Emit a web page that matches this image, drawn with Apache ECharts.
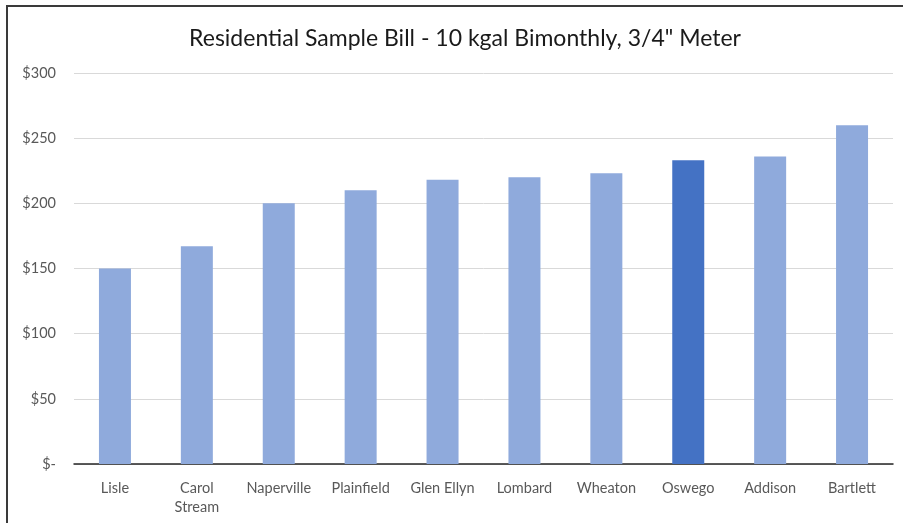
<!DOCTYPE html>
<html lang="en">
<head>
	<meta charset="UTF-8">
	<title>Residential Sample Bill</title>
	<style>
		html, body { margin: 0; padding: 0; background: #fff; }
		#frame { position: absolute; left: 6px; top: 5px; width: 897px; height: 518px;
			border-left: 2px solid #3a3a3a; border-top: 2px solid #3a3a3a; }
		#main { position: absolute; left: 0; top: 0; width: 903px; height: 523px; }
	</style>
</head>
<body>
	<div id="frame"></div>
	<div id="main"></div>
</body>
</html>

<script src='https://cdn.jsdelivr.net/npm/echarts@6/dist/echarts.min.js'></script>
<script>
		var towns = ['Lisle', 'Carol Stream', 'Naperville', 'Plainfield', 'Glen Ellyn', 'Lombard', 'Wheaton', 'Oswego', 'Addison', 'Bartlett'];
		var bills = [150, 167, 200, 210, 218, 220, 223, 233, 236, 260];
		var highlight = 'Oswego';
		var yTicks = [0, 50, 100, 150, 200, 250, 300];

		var myChart = echarts.init(document.getElementById('main'));

		var option = {
			animation: false,
			title: {
				text: 'Residential Sample Bill - 10 kgal Bimonthly, 3/4" Meter',
				left: 460,
				textAlign: 'center',
				top: 22,
				textStyle: { fontFamily: 'Lato', fontSize: 23, fontWeight: 'normal', color: '#1a1a1a' }
			},
			grid: { left: 74, right: 10, top: 73, bottom: 59 },
			xAxis: {
				type: 'category',
				data: towns,
				axisTick: { show: false },
				axisLine: { lineStyle: { color: '#262626', width: 1.5 } },
				axisLabel: {
					color: '#595959', fontFamily: 'Lato', fontSize: 14.5, margin: 15, lineHeight: 19,
					interval: 0,
					formatter: function (v) { return v === 'Carol Stream' ? 'Carol\nStream' : v; }
				}
			},
			yAxis: {
				type: 'value',
				min: yTicks[0],
				max: yTicks[yTicks.length - 1],
				interval: 50,
				axisLine: { show: false },
				axisTick: { show: false },
				splitLine: { lineStyle: { color: '#d9d9d9', width: 1 } },
				axisLabel: {
					color: '#595959', fontFamily: 'Lato', fontSize: 14.5, margin: 18,
					formatter: function (v) { return v === 0 ? '$-' : '$' + v; }
				}
			},
			series: [{
				type: 'bar',
				barWidth: 32,
				data: bills.map(function (v, i) {
					return {
						value: v,
						itemStyle: { color: towns[i] === highlight ? '#4472c4' : '#8faadc' }
					};
				})
			}]
		};
		myChart.setOption(option);
</script>
